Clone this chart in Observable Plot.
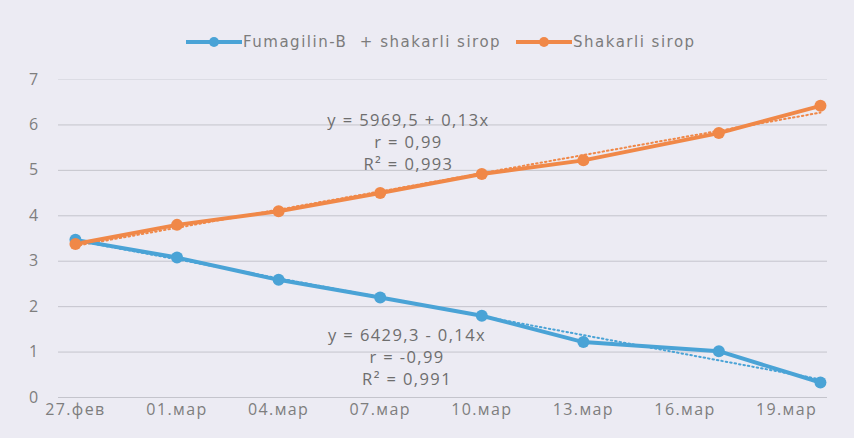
<!DOCTYPE html>
<html>
<head>
<meta charset="utf-8">
<script src="https://cdn.jsdelivr.net/npm/d3@7"></script>
<script src="https://cdn.jsdelivr.net/npm/@observablehq/plot@0.6"></script>
<style>
  html, body { margin: 0; padding: 0; background: #ecebf3; }
  body { width: 854px; height: 438px; overflow: hidden; font-family: "Open Sans", sans-serif; }
  #legend { height: 60px; position: relative; color: #7c7c7c; font-size: 15px; font-family: "DejaVu Sans", sans-serif; letter-spacing: 1.5px; }
  .item { position: absolute; top: 33px; display: flex; align-items: center; white-space: pre; }
  .item svg { margin-right: 1px; }
</style>
</head>
<body>
<div id="legend"></div>
<div id="chart"></div>
<script>
const seriesNames = ["Fumagilin-B  + shakarli sirop", "Shakarli sirop"];
const seriesColors = ["#4aa3d6", "#f08848"];
const dates = ["2016-02-27", "2016-03-01", "2016-03-04", "2016-03-07", "2016-03-10", "2016-03-13", "2016-03-17", "2016-03-20"];
const fumagilin = [3.47, 3.08, 2.59, 2.2, 1.8, 1.22, 1.02, 0.33];
const shakarli = [3.38, 3.8, 4.1, 4.5, 4.92, 5.22, 5.82, 6.42];
const yTicks = [0, 1, 2, 3, 4, 5, 6, 7];
const xTickDates = ["2016-02-27", "2016-03-01", "2016-03-04", "2016-03-07", "2016-03-10", "2016-03-13", "2016-03-16", "2016-03-19"];
const xTickLabels = ["27.фев", "01.мар", "04.мар", "07.мар", "10.мар", "13.мар", "16.мар", "19.мар"];
const annotations = [
  {date: "2016-03-07T20:00Z", value: 5.65, text: "y = 5969,5 + 0,13x\nr = 0,99\nR² = 0,993"},
  {date: "2016-03-07T19:00Z", value: 0.92, text: "y = 6429,3 - 0,14x\nr = -0,99\nR² = 0,991"}
];

const parse = s => new Date(s.length === 10 ? s + "T00:00Z" : s);
const rows = [];
dates.forEach((d, i) => {
  rows.push({date: parse(d), value: fumagilin[i], series: seriesNames[0]});
  rows.push({date: parse(d), value: shakarli[i], series: seriesNames[1]});
});
const tickDates = xTickDates.map(parse);
const labelOf = new Map(tickDates.map((d, i) => [+d, xTickLabels[i]]));
const ann = annotations.map(a => ({...a, date: parse(a.date)}));

// legend
const legend = document.getElementById("legend");
const legendX = [186, 516];
seriesNames.forEach((name, i) => {
  const div = document.createElement("div");
  div.className = "item";
  div.style.left = legendX[i] + "px";
  div.innerHTML = `<svg width="56" height="14"><line x1="0" y1="7" x2="56" y2="7" stroke="${seriesColors[i]}" stroke-width="4"/><circle cx="28" cy="7" r="5" fill="${seriesColors[i]}"/></svg><span>${name}</span>`;
  legend.appendChild(div);
});

const chart = Plot.plot({
  width: 854,
  height: 378,
  marginTop: 19,
  marginBottom: 41,
  marginLeft: 58,
  marginRight: 27,
  style: {background: "transparent", fontFamily: "'Open Sans', sans-serif", fontSize: "16px", color: "#7e7e7e", letterSpacing: "1.4px"},
  x: {type: "utc", domain: [parse("2016-02-26T12:00Z"), parse("2016-03-20T05:00Z")], ticks: tickDates, tickFormat: d => labelOf.get(+d), tickSize: 0, tickPadding: 6, label: null},
  y: {domain: [0, 7], ticks: yTicks, tickFormat: d => String(d), tickSize: 0, tickPadding: 19, label: null},
  color: {domain: seriesNames, range: seriesColors},
  marks: [
    Plot.ruleY(yTicks.filter(t => t < 7), {stroke: "#c4c4cc", strokeWidth: 1}),
    Plot.ruleY(yTicks.filter(t => t === 7), {stroke: "#dcdce4", strokeWidth: 1}),
    Plot.linearRegressionY(rows, {x: "date", y: "value", stroke: "series", ci: 0, strokeWidth: 2, strokeDasharray: "1.5,3"}),
    Plot.line(rows, {x: "date", y: "value", z: "series", stroke: "series", strokeWidth: 4}),
    Plot.dot(rows, {x: "date", y: "value", fill: "series", r: 6}),
    Plot.text(ann, {x: "date", y: "value", text: "text", lineHeight: 1.35, fill: "#6e6e6e", fontSize: 16.5, style: "letter-spacing:1px"})
  ]
});
chart.querySelectorAll("text").forEach(t => {});
document.getElementById("chart").appendChild(chart);
</script>
</body>
</html>
